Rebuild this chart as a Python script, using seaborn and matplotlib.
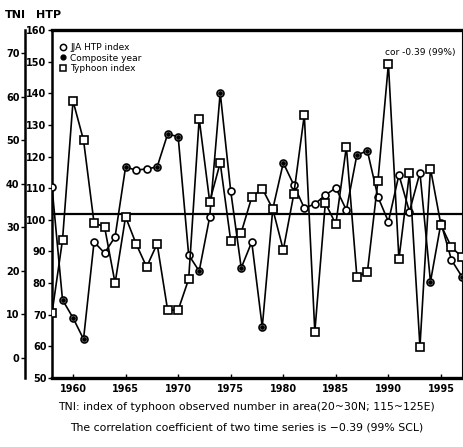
import matplotlib
matplotlib.use("Agg")
import matplotlib.pyplot as plt
from matplotlib.lines import Line2D
import seaborn as sns
import pandas as pd

# values
years = list(range(1958, 1998))
htp_index = [110.4, 74.7, 69.0, 62.3, 93.0, 89.5, 94.6, 116.7, 115.7, 116.1,
             116.7, 127.1, 126.3, 88.9, 83.8, 100.9, 140.2, 109.1, 84.8, 93.0,
             66.1, 103.4, 118.0, 111.0, 103.7, 105.0, 107.8, 110.1, 103.1, 120.5,
             121.8, 107.3, 99.4, 114.2, 102.6, 114.9, 80.4, 99.0, 87.3, 82.0]
typhoon_index = [10.3, 27.1, 59.0, 50.0, 31.0, 30.1, 17.2, 32.4, 26.2, 20.9,
                 26.2, 11.0, 11.0, 18.1, 54.9, 35.9, 44.8, 26.9, 28.8, 36.9,
                 38.9, 34.2, 24.8, 37.6, 55.8, 6.0, 35.6, 30.7, 48.5, 18.7,
                 19.7, 40.6, 67.5, 22.7, 42.4, 2.6, 43.5, 30.5, 25.4, 23.2]
composite_years = [1959, 1960, 1961, 1965, 1968, 1969, 1970, 1972, 1974,
                   1976, 1978, 1980, 1987, 1988, 1994, 1997]
ref_level = 101.8  # horizontal reference line (HTP units)

htp_ticks = [50, 60, 70, 80, 90, 100, 110, 120, 130, 140, 150, 160]
tni_ticks = [0, 10, 20, 30, 40, 50, 60, 70]
year_ticks = [1960, 1965, 1970, 1975, 1980, 1985, 1990, 1995]

df = pd.DataFrame({"year": years, "htp": htp_index, "tni": typhoon_index})
comp = df[df["year"].isin(composite_years)]

sns.set_theme(style="ticks")
plt.rcParams["font.family"] = ["DejaVu Sans"]
plt.rcParams.update({"text.color": "black", "axes.edgecolor": "black",
                     "xtick.color": "black", "ytick.color": "black",
                     "axes.labelcolor": "black"})

fig = plt.figure(figsize=(4.63, 4.47), dpi=100)
ax = fig.add_axes([52 / 463, 69 / 447, 410 / 463, 348 / 447])
ax2 = ax.twinx()

# HTP index (inner axis)
sns.lineplot(data=df, x="year", y="htp", ax=ax, color="black", lw=1.2,
             marker="o", markersize=5, markerfacecolor="white",
             markeredgecolor="black", markeredgewidth=1.2, zorder=4)
sns.scatterplot(data=comp, x="year", y="htp", ax=ax, color="black", s=12,
                linewidth=0, zorder=5)
ax.axhline(ref_level, color="black", lw=1.6, zorder=3)

# typhoon index (outer TNI axis)
sns.lineplot(data=df, x="year", y="tni", ax=ax2, color="black", lw=1.2,
             marker="s", markersize=5.5, markerfacecolor="white",
             markeredgecolor="black", markeredgewidth=1.2, zorder=4)

ax.set_xlim(1958, 1997)
ax.set_ylim(50, 160)
ax.set_yticks(htp_ticks)
ax.set_xticks(year_ticks)
ax2.set_ylim(-4.6, 75.3)
ax2.set_yticks(tni_ticks)

ax.set_xlabel("")
ax.set_ylabel("")
ax2.set_ylabel("")

for s in ["top", "bottom"]:
    ax.spines[s].set_linewidth(2.4)
ax.spines["left"].set_linewidth(1.8)
ax.spines["right"].set_linewidth(0.8)
ax.tick_params(axis="y", direction="out", length=3, width=1, labelsize=7, pad=1)
ax.tick_params(axis="x", direction="in", length=3, width=1, labelsize=7, pad=4)

ax2.yaxis.set_ticks_position("left")
ax2.yaxis.set_label_position("left")
ax2.spines["left"].set_position(("axes", -27 / 410))
ax2.spines["left"].set_linewidth(1.8)
for s in ["top", "bottom", "right"]:
    ax2.spines[s].set_visible(False)
ax2.tick_params(axis="y", direction="out", length=3, width=1, labelsize=7, pad=1)

for lab in ax.get_xticklabels() + ax.get_yticklabels() + ax2.get_yticklabels():
    lab.set_fontweight("bold")

handles = [
    Line2D([], [], ls="none", marker="o", markersize=4.5, markerfacecolor="white",
           markeredgecolor="black", markeredgewidth=1.1),
    Line2D([], [], ls="none", marker="o", markersize=3.5, color="black"),
    Line2D([], [], ls="none", marker="s", markersize=5, markerfacecolor="white",
           markeredgecolor="black", markeredgewidth=1.1),
]
ax.legend(handles, ["JJA HTP index", "Composite year", "Typhoon index"],
          loc="upper left", bbox_to_anchor=(0.0, 0.98), frameon=False,
          fontsize=6.5, handletextpad=0.3, labelspacing=0.15,
          borderaxespad=0.3, handlelength=1.0)

ax.text(0.985, 0.935, "cor -0.39 (99%)", transform=ax.transAxes, ha="right",
        va="center", fontsize=6.5)

fig.text(5 / 463, 1 - 15 / 447, "TNI", ha="left", va="center", fontsize=8,
         fontweight="bold")
fig.text(36 / 463, 1 - 15 / 447, "HTP", ha="left", va="center", fontsize=8,
         fontweight="bold")
fig.text(246 / 463, 1 - 407 / 447,
         "TNI: index of typhoon observed number in area(20~30N; 115~125E)",
         ha="center", va="center", fontsize=7.8)
fig.text(247 / 463, 1 - 428 / 447,
         "The correlation coefficient of two time series is \u22120.39 (99% SCL)",
         ha="center", va="center", fontsize=7.8)

fig.savefig("out.png", dpi=100)
